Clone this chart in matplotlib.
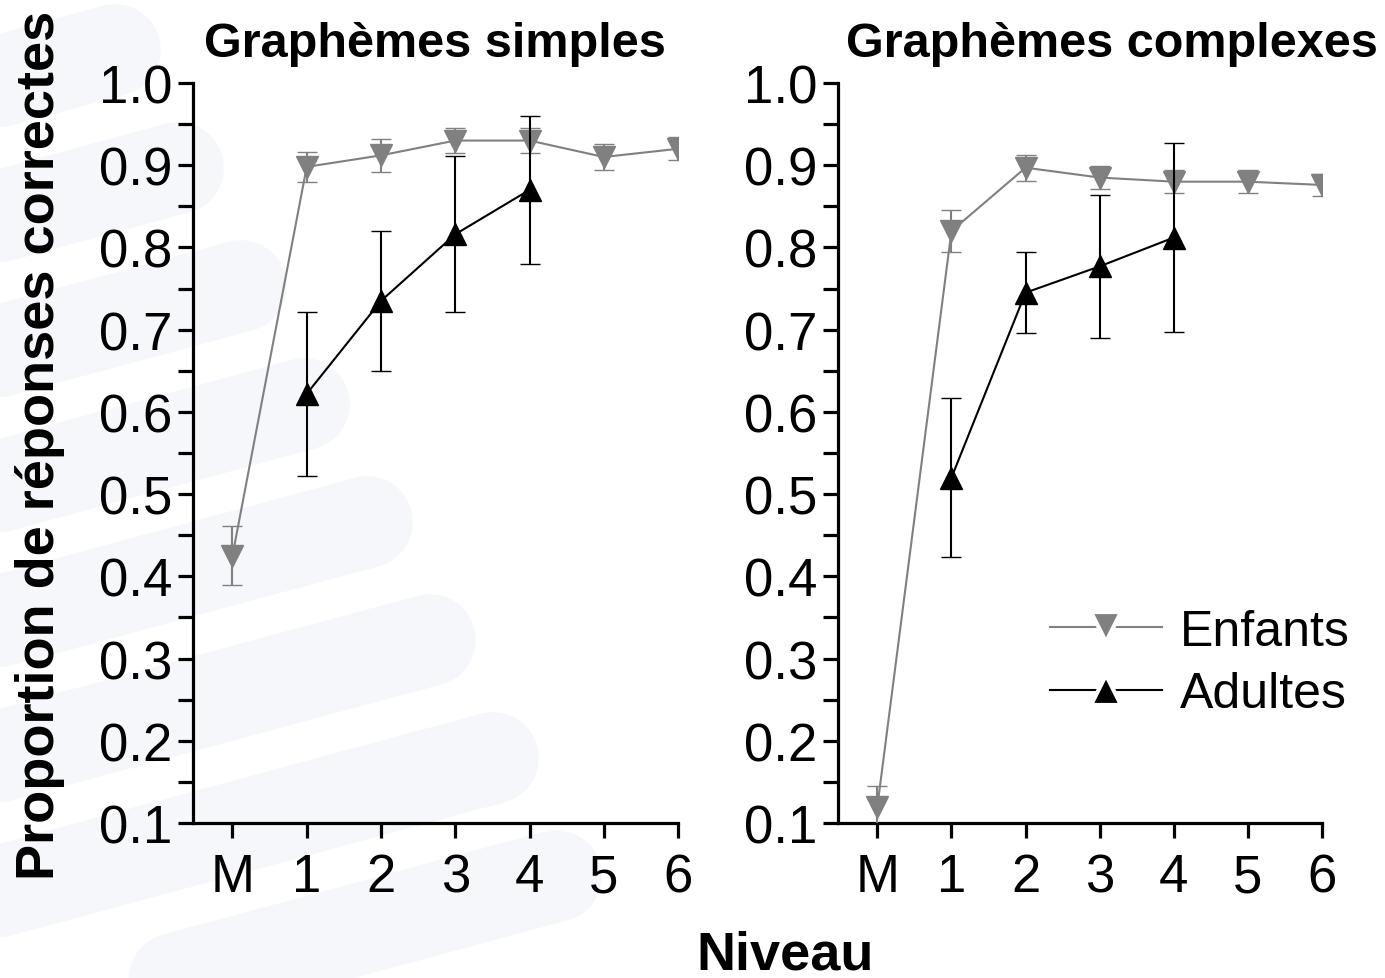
import matplotlib
matplotlib.use("Agg")
import matplotlib.pyplot as plt
from matplotlib.ticker import MultipleLocator, FormatStrFormatter
from matplotlib.lines import Line2D

plt.rcParams['font.family'] = ['Liberation Sans', 'DejaVu Sans']

niveaux = ['M', '1', '2', '3', '4', '5', '6']

# graphemes simples
enf_simple = [0.425, 0.898, 0.912, 0.930, 0.930, 0.910, 0.920]
enf_simple_err = [0.036, 0.018, 0.020, 0.015, 0.015, 0.016, 0.014]
adu_simple = [0.622, 0.735, 0.816, 0.870]
adu_simple_err = [0.100, 0.085, 0.095, 0.090]

# graphemes complexes
enf_complexe = [0.120, 0.820, 0.897, 0.885, 0.880, 0.880, 0.876]
enf_complexe_err = [0.025, 0.025, 0.016, 0.014, 0.014, 0.014, 0.013]
adu_complexe = [0.520, 0.745, 0.777, 0.812]
adu_complexe_err = [0.097, 0.049, 0.087, 0.115]

grey = '#808080'
W, H = 1385, 979
fig = plt.figure(figsize=(W / 100, H / 100), dpi=100)

# faint watermark bands in the background (pixel positions of the rounded ends)
band_y = [51, 169, 287, 405, 523, 641, 759, 877, 995]
band_x = [161, 224, 287, 350, 413, 476, 539, 602, 665]
for yc, xe in zip(band_y, band_x):
    xc = xe - 46
    x0 = -150
    y0 = yc + 0.27 * (xc - x0)
    fig.add_artist(Line2D([x0 / W, xc / W], [1 - y0 / H, 1 - yc / H],
                          transform=fig.transFigure, color='#f6f7fb', lw=66,
                          solid_capstyle='round', zorder=0))

ax1 = fig.add_axes([0.1394, 0.1583, 0.3502, 0.7559])
ax2 = fig.add_axes([0.6051, 0.1583, 0.3494, 0.7559])


def draw(ax, enf, enf_err, adu, adu_err):
    x_enf = list(range(len(enf)))
    x_adu = list(range(1, len(adu) + 1))
    ax.errorbar(x_enf, enf, yerr=enf_err, color=grey, lw=1.5, ecolor=grey,
                elinewidth=1.5, capsize=7, capthick=1.5, marker='v', ms=16,
                mfc=grey, mec=grey, mew=1, zorder=3)
    ax.errorbar(x_adu, adu, yerr=adu_err, color='black', lw=1.5, ecolor='black',
                elinewidth=1.5, capsize=7, capthick=1.5, marker='^', ms=16,
                mfc='black', mec='black', mew=1, zorder=4)
    ax.set_xlim(-0.53, 6)
    ax.set_ylim(0.1, 1.0)
    ax.set_xticks(range(7))
    ax.set_xticklabels(niveaux)
    ax.yaxis.set_major_locator(MultipleLocator(0.1))
    ax.yaxis.set_minor_locator(MultipleLocator(0.05))
    ax.yaxis.set_major_formatter(FormatStrFormatter('%.1f'))
    for s in ['top', 'right']:
        ax.spines[s].set_visible(False)
    for s in ['left', 'bottom']:
        ax.spines[s].set_linewidth(2.3)
    ax.tick_params(axis='both', which='both', direction='out', length=11,
                   width=2.3, labelsize=38, pad=4)
    ax.tick_params(axis='x', pad=10)
    ax.patch.set_alpha(0)


draw(ax1, enf_simple, enf_simple_err, adu_simple, adu_simple_err)
draw(ax2, enf_complexe, enf_complexe_err, adu_complexe, adu_complexe_err)

fig.text(0.314, 0.955, 'Graphèmes simples', ha='center', va='center',
         fontsize=35, fontweight='bold')
fig.text(0.803, 0.955, 'Graphèmes complexes', ha='center', va='center',
         fontsize=35, fontweight='bold')
fig.text(0.567, 0.024, 'Niveau', ha='center', va='center',
         fontsize=39, fontweight='bold')
fig.text(0.029, 0.545, 'Proportion de réponses correctes', ha='center',
         va='center', rotation=90, fontsize=39, fontweight='bold')

handles = [
    Line2D([], [], color=grey, lw=1.5, marker='v', ms=21, mfc=grey, mec='white', mew=3),
    Line2D([], [], color='black', lw=1.5, marker='^', ms=21, mfc='black', mec='white', mew=3),
]
ax2.legend(handles, ['Enfants', 'Adultes'], loc='upper left',
           bbox_to_anchor=(0.386, 0.323), frameon=False, fontsize=36,
           handlelength=2.24, handletextpad=0.36, labelspacing=0.33,
           borderpad=0, numpoints=1)

fig.savefig('out.png', dpi=100)
